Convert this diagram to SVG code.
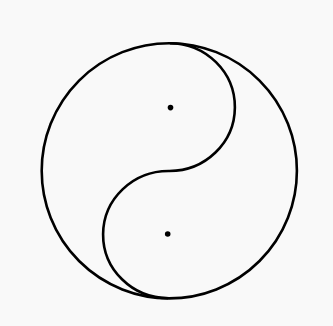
<svg xmlns="http://www.w3.org/2000/svg" width="333" height="326" viewBox="0 0 333 326">
<style>
.ln{fill:none;stroke:#000;stroke-width:2.6}
.dot{fill:#000}
</style>
<rect width="333" height="326" fill="#f9f9f9"/>
<g id="outer"><circle class="ln" cx="169.3" cy="170.8" r="127.6"/></g>
<g id="connectors"><path class="ln" d="M169.8 43.2 A65.5 63.9 0 0 1 169 171 A65.5 63.6 0 0 0 168.2 298.2"/></g>
<g id="dot-top"><circle class="dot" cx="170.5" cy="107.6" r="2.8"/></g>
<g id="dot-bottom"><circle class="dot" cx="167.7" cy="234" r="2.8"/></g>
</svg>
